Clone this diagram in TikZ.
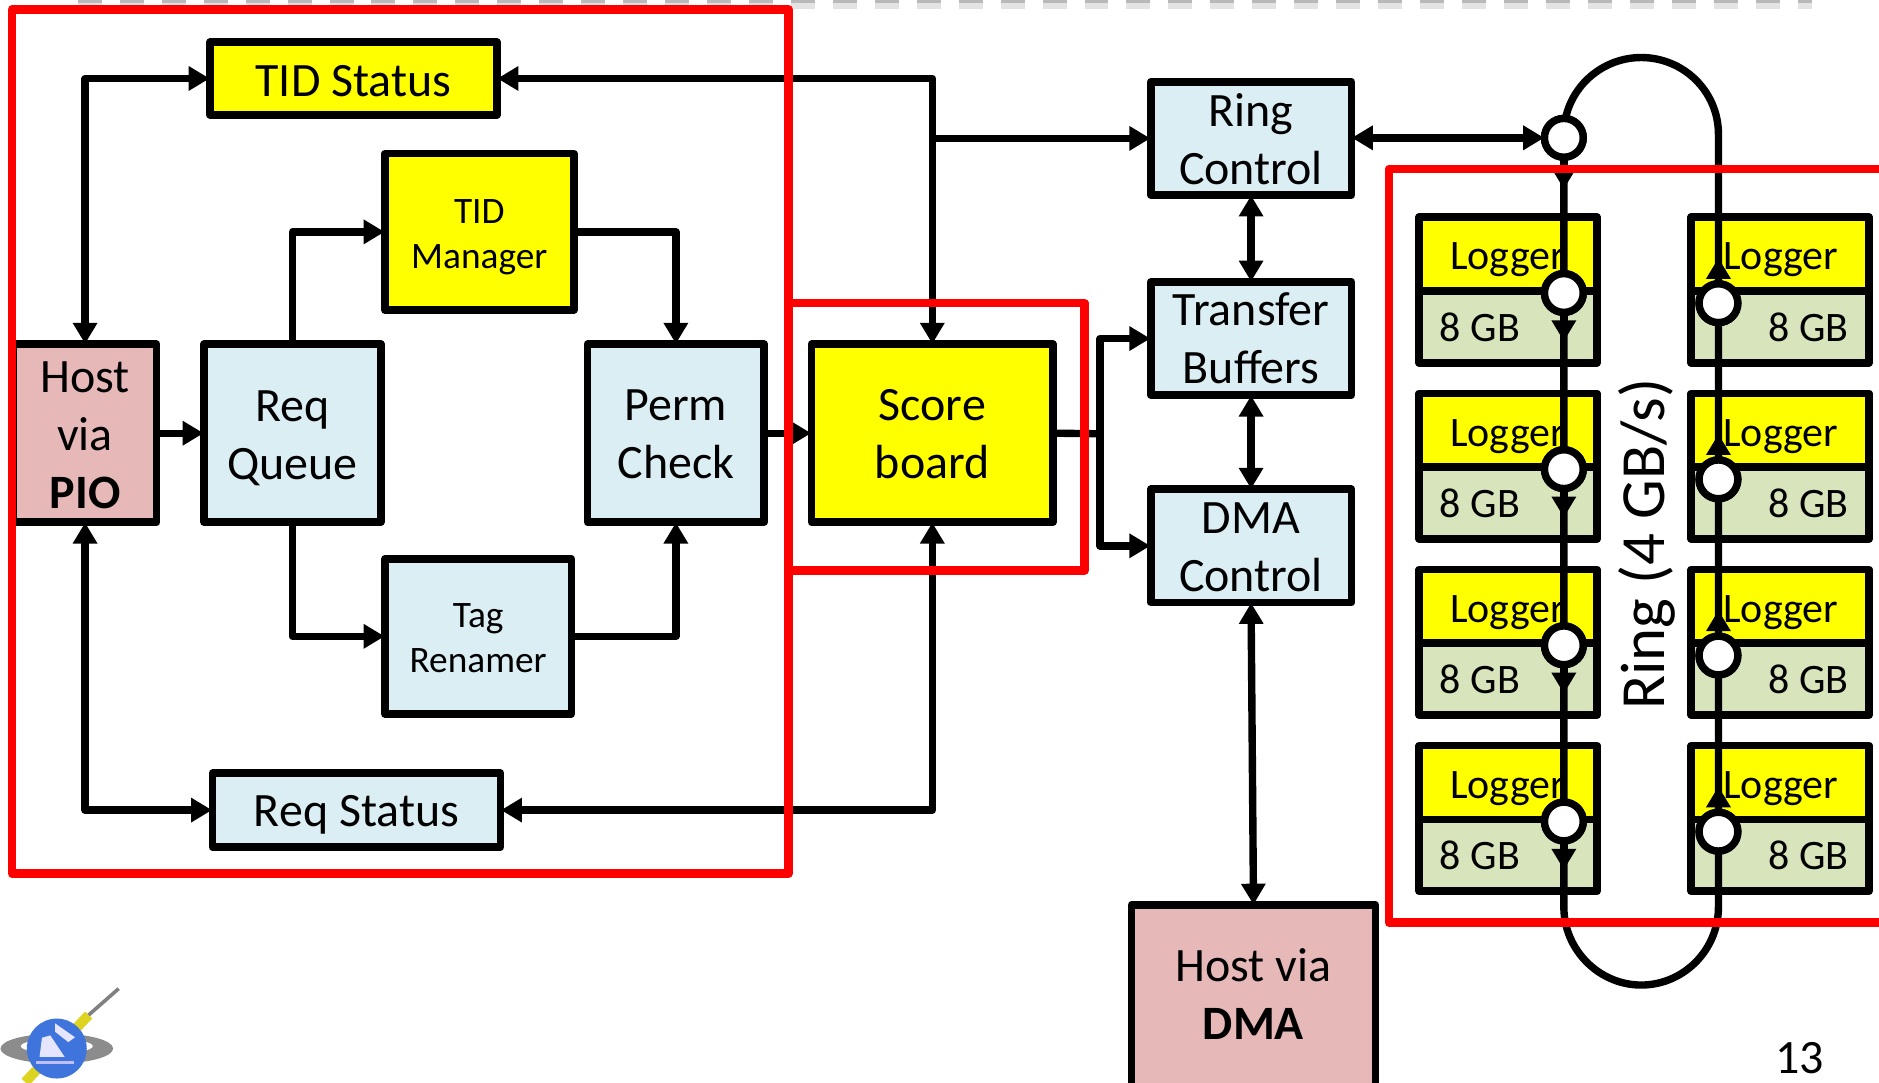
\documentclass[tikz,border=0pt]{standalone}
\usepackage{fontspec}
\setmainfont{Carlito}
\usetikzlibrary{arrows.meta,calc}
\definecolor{lblue}{HTML}{DBEEF4}
\definecolor{lpink}{HTML}{E6B9B8}
\definecolor{lgreen}{HTML}{D8E4BC}
\definecolor{lyel}{HTML}{FFFF00}
\definecolor{lred}{HTML}{FF0000}
\definecolor{lglobe}{HTML}{3F74DC}
\tikzset{
 bx/.style={draw=black,line width=3.8pt,line join=round,inner sep=0pt,align=center,font=\fontsize{24}{29}\selectfont},
 smalltext/.style={font=\fontsize{18.7}{22.3}\selectfont},
 conn/.style={draw=black,line width=3.7pt,line join=round},
 one/.style={conn,-{Triangle[length=10.5pt,width=11.7pt]},shorten >=-1.7pt},
 two/.style={conn,{Triangle[length=10.5pt,width=11.7pt]}-{Triangle[length=10.5pt,width=11.7pt]},shorten >=-1.7pt,shorten <=-1.7pt},
 junc/.style={circle,draw=black,fill=white,line width=3.7pt,minimum size=19.4pt,inner sep=0pt},
 redbox/.style={draw=lred,line width=4.3pt,line join=round},
 logtext/.style={font=\fontsize{21}{25}\selectfont},
}
\newcommand{\bxn}[7]{\node[bx,#1,minimum width={((#5)-(#3)-4.5)*0.6pt},minimum height={((#6)-(#4)-4.5)*0.6pt}] (#2) at ({((#3)+(#5))/2},{((#4)+(#6))/2}) {#7};}
\newcommand{\dn}[2]{\smash{\raisebox{-#1pt}{\begin{tabular}{@{}c@{}}#2\end{tabular}}}}
\begin{document}
\begin{tikzpicture}[x=0.6pt,y=-0.6pt]
\path[use as bounding box,clip] (0,0) rectangle (1568,903);
\fill[white] (0,0) rectangle (1568,903);
% top dashed band
\draw[gray!22,line width=5pt,dash pattern=on 12pt off 9pt] (65,3.5) -- (1512,3.5);
\draw[gray!55,line width=2pt,dash pattern=on 12pt off 9pt] (65,1) -- (1512,1);
% boxes
\bxn{fill=lyel}{tids}{173}{33}{417}{98}{\dn{9.2}{TID Status}}
\bxn{fill=lyel,smalltext}{tidm}{319}{126}{481}{261}{\dn{7}{TID\\Manager}}
\bxn{fill=lpink}{host}{9}{285}{133}{438}{\dn{9}{Host\\via\\\textbf{PIO}}}
\bxn{fill=lblue}{req}{168}{285}{320}{438}{\dn{9}{Req\\Queue}}
\bxn{fill=lblue}{perm}{488}{285}{640}{438}{\dn{8.8}{Perm\\Check}}
\bxn{fill=lyel}{score}{675}{285}{881}{438}{\dn{8.8}{Score\\board}}
\bxn{fill=lblue,smalltext}{tag}{319}{464}{479}{598}{\dn{6.6}{Tag\\Renamer}}
\bxn{fill=lblue}{reqs}{175}{643}{420}{709}{\dn{8.6}{Req Status}}
\bxn{fill=lblue}{ring}{958}{66}{1130}{165}{\dn{9}{Ring\\Control}}
\bxn{fill=lblue}{xfer}{958}{233}{1130}{332}{\dn{8.4}{Transfer\\Buffers}}
\bxn{fill=lblue}{dma}{958}{406}{1130}{505}{\dn{8.8}{DMA\\Control}}
\bxn{fill=lpink}{hdma}{942}{753}{1150}{920}{}
\node[bx,draw=none,anchor=center] (hdmat) at (1046,829.5) {Host via\\\textbf{DMA}};
% loggers
\foreach \i/\d in {0/0,1/147,2/294,3/441}{
 \bxn{fill=lgreen}{lg\i}{1182}{239+\d}{1335}{305+\d}{}
 \bxn{fill=lyel,logtext}{ly\i}{1182}{179+\d}{1335}{245+\d}{}
 \node[logtext,inner sep=0pt] (lyt\i) at (1258,{217+\d}) {Logger};
 \node[logtext,inner sep=0pt] (lgt\i) at (1235,{273+\d}) {8 GB};
 \bxn{fill=lgreen}{rg\i}{1409}{239+\d}{1562}{305+\d}{}
 \bxn{fill=lyel,logtext}{ry\i}{1409}{179+\d}{1562}{245+\d}{}
 \node[logtext,inner sep=0pt] (ryt\i) at (1486,{217+\d}) {Logger};
 \node[logtext,inner sep=0pt] (rgt\i) at (1509,{273+\d}) {8 GB};
}
% connectors
\draw[two] (host.north) |- (tids.west);
\draw[two] (score.north) |- (tids.east);
\coordinate (jr) at (score.north |- ring.west);
\draw[one] (jr) -- (ring.west);
\draw[two] (ring.south) -- (xfer.north);
\draw[two] (xfer.south) -- (dma.north);
\draw[one] (host.east) -- (host.east -| req.west);
\draw[one] (perm.east) -- (perm.east -| score.west);
\draw[one] (req.north) |- (tidm.west);
\draw[one] (tidm.east) -| (perm.north);
\draw[one] (req.south) |- (tag.west);
\draw[one] (tag.east) -| (perm.south);
\draw[two] (host.south) |- (reqs.west);
\draw[two] (score.south) |- (reqs.east);
\coordinate (js) at (918,362);
\draw[conn] (score.east) -- (js);
\draw[one] (js) |- (xfer.west);
\draw[one] (js) |- (dma.west);
\draw[two] (dma.south) -- (hdma.north);
% ring
\node[junc] (c0) at (1305,115) {};
\foreach \d [count=\i from 0] in {0,147,294,441}{
 \node[junc] (a\i) at (1305,{244.5+\d}) {};
 \node[junc] (b\i) at (1434,{253+\d}) {};
}
\draw[two] (ring.east |- c0) -- (c0.west);
\draw[conn] (1305,112) .. controls (1305,76.4) and (1334.4,48) .. (1369.5,48)
  .. controls (1405,48) and (1434,76.4) .. (1434,112) -- (1434,757)
  .. controls (1434,792.6) and (1405,822) .. (1369.5,822)
  .. controls (1334.4,822) and (1305,792.6) .. (1305,757) -- cycle;
\foreach \i in {0,1,2,3}{
 \draw[one] (a\i.center) -- ($(a\i)+(0,37.5)$);
 \draw[one] (b\i.center) -- ($(b\i)+(0,-35)$);
}
\draw[one] (c0.center) -- ($(c0)+(0,40)$);
\foreach \n in {c0,a0,a1,a2,a3,b0,b1,b2,b3}{
 \node[junc] at (\n) {};
}
\node[rotate=90,inner sep=0pt,font=\fontsize{31.5}{36}\selectfont] (rl) at (1374,454) {Ring (4 GB/s)};
% red frames
\draw[redbox] (10,8) rectangle (658,729);
\draw[redbox] (658,253) -- (905,253) -- (905,476) -- (658,476);
\draw[redbox] (1600,141) -- (1159,141) -- (1159,770) -- (1600,770);
% page number
\node[inner sep=0pt,font=\fontsize{24}{28}\selectfont] (pn) at (1502,883) {13};
% logo
\fill[gray!90] (47.4,875) ellipse [x radius=47,y radius=12.5];
\fill[white] (47.4,873) ellipse [x radius=30,y radius=6];
\draw[yellow!85!black,line width=5pt] (21,903) -- (74,847);
\draw[gray,line width=1.8pt] (74,847) -- (99,825);
\fill[lglobe] (47.4,875) circle [radius=25];
\fill[white!90!blue] (33,882) -- (35,866) -- (42,864) -- (54,882) -- cycle;
\fill[white!90!blue] (46,854) -- (62.6,865.6) -- (57,869.6) -- (46,861) -- cycle;
\draw[white!75!blue,line width=1.5pt] (30,887) -- (62,887);
\end{tikzpicture}
\end{document}
